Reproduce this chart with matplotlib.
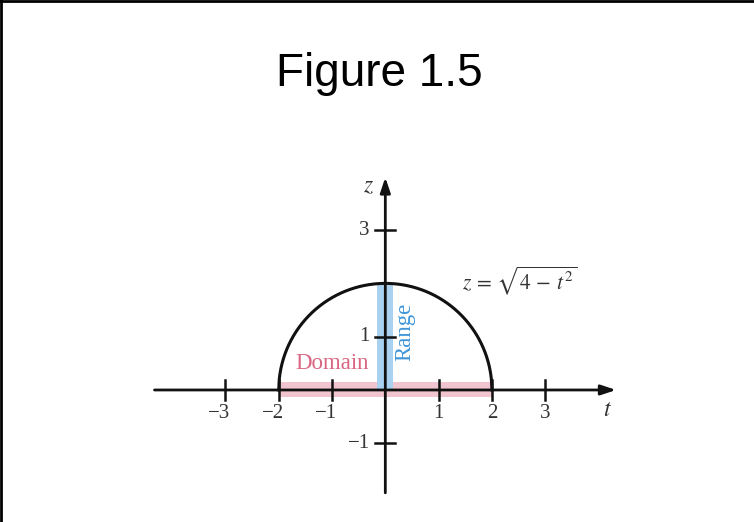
import numpy as np
import matplotlib.pyplot as plt
import matplotlib.lines as mlines

plt.rcParams['mathtext.fontset'] = 'stix'

# data
t_ticks = [-3, -2, -1, 1, 2, 3]
z_ticks = [-1, 1, 3]
t_labels = ['−3', '−2', '−1', '1', '2', '3']
z_labels = ['−1', '1', '3']
radius = 2
domain = [-2, 2]
rng = [0, 2]

fig = plt.figure(figsize=(7.54, 5.22), dpi=100)
ax = fig.add_axes([0, 0, 1, 1])
ax.set_xlim(-7.229, 6.917)
ax.set_ylim(-2.477, 7.317)
ax.axis('off')

# frame (top / left)
fig.add_artist(mlines.Line2D([0, 1], [0.998, 0.998], color='black', lw=2))
fig.add_artist(mlines.Line2D([0.0015, 0.0015], [0, 1], color='black', lw=2))

fig.text(0.503, 0.858, 'Figure 1.5', fontsize=33, family='Liberation Sans',
         ha='center', va='center')

# domain / range bars
ax.fill_between(domain, -0.13, 0.15, color='#F0C5CF', lw=0, zorder=1)
ax.fill_between([-0.16, 0.15], rng[0], rng[1], color='#A9D1F0', lw=0, zorder=1)

# axes with arrows
ax.annotate('', xy=(4.33, 0), xytext=(-4.33, 0),
            arrowprops=dict(arrowstyle='-|>,head_length=0.9,head_width=0.3',
                            lw=2, color='#111111', shrinkA=0, shrinkB=0), zorder=3)
ax.annotate('', xy=(0, 3.99), xytext=(0, -1.93),
            arrowprops=dict(arrowstyle='-|>,head_length=0.9,head_width=0.3',
                            lw=2, color='#111111', shrinkA=0, shrinkB=0), zorder=3)

# semicircle
t = np.linspace(-radius, radius, 400)
ax.plot(t, np.sqrt(radius**2 - t**2), color='#111111', lw=2.2, zorder=4)

# ticks
for x, lab in zip(t_ticks, t_labels):
    ax.plot([x, x], [-0.19, 0.19], color='#111111', lw=1.8, zorder=3)
    off = -0.11 if x < 0 else 0
    ax.text(x + off, -0.45, lab, fontsize=15, family='Liberation Serif',
            color='#333333', ha='center', va='center')
for y, lab in zip(z_ticks, z_labels):
    ax.plot([-0.19, 0.19], [y, y], color='#111111', lw=1.8, zorder=3)
    ax.text(-0.29, y, lab, fontsize=15, family='Liberation Serif',
            color='#333333', ha='right', va='center')

ax.text(4.16, -0.36, r'$t$', fontsize=17, color='#333333', ha='center', va='center')
ax.text(-0.32, 3.85, r'$z$', fontsize=17, color='#333333', ha='center', va='center')

ax.text(1.44, 2.06, r'$z\,=\,\sqrt{4\,-\,t^2}$', fontsize=15.5, color='#333333',
        ha='left', va='center')

ax.text(-1.0, 0.5, 'Domain', fontsize=16.5, family='Liberation Serif',
        color='#D96683', ha='center', va='center')
ax.text(0.37, 1.09, 'Range', fontsize=16.5, family='Liberation Serif',
        color='#3E95D8', ha='center', va='center', rotation=90)

fig.savefig('out.png', dpi=100)
